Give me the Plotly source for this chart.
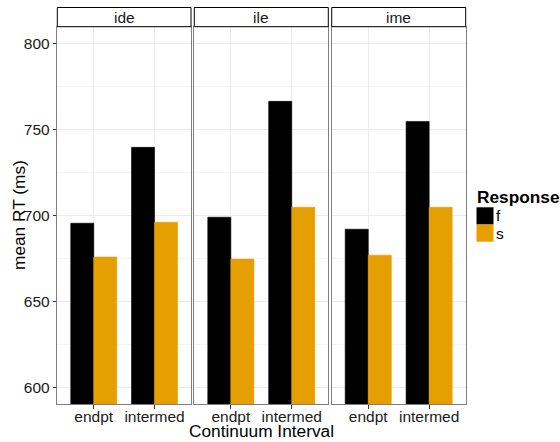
import plotly.graph_objects as go

panels = ["ide", "ile", "ime"]
intervals = ["endpt", "intermed"]
responses = ["f", "s"]
colors = {"f": "#000000", "s": "#E69F00"}
values = {
    "ide": {"f": [695.5, 739.7], "s": [675.8, 696.1]},
    "ile": {"f": [699.0, 766.5], "s": [674.6, 704.8]},
    "ime": {"f": [692.0, 754.8], "s": [676.9, 704.8]},
}
y_range = [590, 810]
y_ticks = [600, 650, 700, 750, 800]

W, H = 560, 442
px_x = lambda p: p / W
px_y = lambda p: 1 - p / H

panel_x = [(57.3, 191.0), (194.3, 328.3), (331.7, 465.7)]
plot_top, plot_bot = 26.7, 404.3
strip_top = 7.5

fig = go.Figure()
font = "Liberation Sans, Arial, sans-serif"
tick_size = 15.5
title_size = 17.3

for i, p in enumerate(panels):
    xa = "x" if i == 0 else f"x{i+1}"
    ya = "y" if i == 0 else f"y{i+1}"
    for r in responses:
        fig.add_trace(go.Bar(
            x=intervals, y=values[p][r], name=r, marker_color=colors[r],
            marker_line=dict(width=0.6, color=colors[r]),
            xaxis=xa, yaxis=ya, showlegend=False, base=0,
        ))
    axkey = "" if i == 0 else str(i + 1)
    x0, x1 = panel_x[i]
    fig.layout["xaxis" + axkey] = dict(
        domain=[px_x(x0), px_x(x1)], anchor=ya, type="category",
        range=[-0.6, 1.6], showgrid=True, gridcolor="#EBEBEB", gridwidth=1,
        showline=True, mirror=True, linecolor="#7F7F7F", linewidth=1,
        ticks="outside", ticklen=3.5, tickcolor="#333333",
        ticklabelstandoff=-5,
        tickfont=dict(family=font, size=tick_size, color="#1a1a1a"),
        zeroline=False, fixedrange=True,
    )
    fig.layout["yaxis" + axkey] = dict(
        domain=[px_y(plot_bot), px_y(plot_top)], anchor=xa,
        range=y_range, tickvals=y_ticks,
        showticklabels=(i == 0),
        ticks="outside" if i == 0 else "", ticklen=3.5, tickcolor="#333333",
        tickfont=dict(family=font, size=tick_size, color="#1a1a1a"),
        showgrid=True, gridcolor="#EBEBEB", gridwidth=1,
        minor=dict(dtick=25, tick0=0, showgrid=True, gridcolor="#F5F5F5", gridwidth=0.6),
        showline=True, mirror=True, linecolor="#7F7F7F", linewidth=1,
        zeroline=False, fixedrange=True,
    )
    # strip
    fig.add_shape(type="rect", xref="paper", yref="paper",
                  x0=px_x(x0), x1=px_x(x1), y0=px_y(plot_top), y1=px_y(strip_top),
                  line=dict(color="black", width=1), fillcolor="white", layer="above")
    fig.add_annotation(text=p, xref="paper", yref="paper",
                       x=(px_x(x0) + px_x(x1)) / 2, y=(px_y(plot_top) + px_y(strip_top)) / 2,
                       showarrow=False, font=dict(family=font, size=tick_size, color="#1a1a1a"),
                       xanchor="center", yanchor="middle")

# axis titles
fig.add_annotation(text="Continuum Interval", xref="paper", yref="paper",
                   x=(px_x(57.3) + px_x(465.7)) / 2, y=px_y(431), showarrow=False,
                   font=dict(family=font, size=title_size, color="black"),
                   xanchor="center", yanchor="middle")
fig.add_annotation(text="mean RT (ms)", xref="paper", yref="paper",
                   x=px_x(18.5), y=(px_y(plot_top) + px_y(plot_bot)) / 2, showarrow=False,
                   textangle=-90, font=dict(family=font, size=title_size, color="black"),
                   xanchor="center", yanchor="middle")

# legend (manual, ggplot style)
fig.add_annotation(text="<b>Response</b>", xref="paper", yref="paper",
                   x=px_x(474.5), y=px_y(197), showarrow=False,
                   font=dict(family=font, size=title_size, color="black"),
                   xanchor="left", yanchor="middle")
key_top = 207.3
key_h = 17.2
for j, r in enumerate(responses):
    t = key_top + j * key_h
    fig.add_shape(type="rect", xref="paper", yref="paper",
                  x0=px_x(476.5), x1=px_x(493.5), y0=px_y(t + key_h), y1=px_y(t),
                  fillcolor=colors[r], line=dict(width=0))
    fig.add_annotation(text=r, xref="paper", yref="paper",
                       x=px_x(493.5), y=px_y(t + key_h / 2), showarrow=False,
                       font=dict(family=font, size=tick_size, color="black"),
                       xanchor="left", yanchor="middle")

fig.update_layout(
    width=W, height=H, margin=dict(l=0, r=0, t=0, b=0),
    paper_bgcolor="white", plot_bgcolor="white",
    barmode="group", bargap=0.243, bargroupgap=0,
    showlegend=False,
)
fig.write_html("out.html", config={"displayModeBar": False},
               post_script="document.body.style.margin='0';")
